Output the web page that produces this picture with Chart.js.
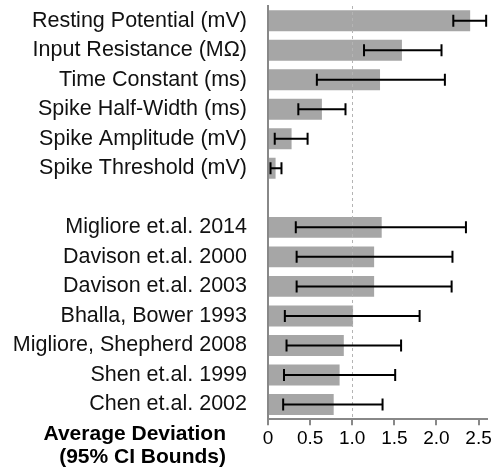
<!DOCTYPE html>
<html>
<head>
<meta charset="utf-8">
<script src="https://cdn.jsdelivr.net/npm/chart.js@4"></script>
<style>
  html, body { margin: 0; padding: 0; background: #fff; }
  #wrap { position: relative; width: 495px; height: 470px; }
  #axisTitle {
    position: absolute; left: 0; top: 422px; width: 226px;
    text-align: right; font: bold 21px "Liberation Sans", Arial, sans-serif;
    line-height: 22.6px; color: #000;
  }
</style>
</head>
<body>
<div id="wrap">
  <canvas id="chart" width="495" height="470"></canvas>
  <div id="axisTitle">Average Deviation<br>(95% CI Bounds)</div>
</div>
<script>
// rows top to bottom, '' is the spacer row
const categories = [
  'Resting Potential (mV)', 'Input Resistance (M\u03A9)', 'Time Constant (ms)',
  'Spike Half-Width (ms)', 'Spike Amplitude (mV)', 'Spike Threshold (mV)',
  '',
  'Migliore et.al. 2014', 'Davison et.al. 2000', 'Davison et.al. 2003',
  'Bhalla, Bower 1993', 'Migliore, Shepherd 2008', 'Shen et.al. 1999', 'Chen et.al. 2002'
];
const deviation = [2.40, 1.59, 1.33, 0.64, 0.28, 0.09, null, 1.35, 1.26, 1.26, 1.01, 0.90, 0.85, 0.78];
const ciLower   = [2.20, 1.14, 0.58, 0.36, 0.08, 0.03, null, 0.33, 0.34, 0.34, 0.20, 0.22, 0.19, 0.18];
const ciUpper   = [2.59, 2.06, 2.10, 0.92, 0.47, 0.16, null, 2.35, 2.19, 2.18, 1.80, 1.58, 1.51, 1.36];
const xTicks = [0, 0.5, 1, 1.5, 2, 2.5];
const refValue = 1;

const errorBars = {
  id: 'errorBars',
  afterDatasetsDraw(chart) {
    const ctx = chart.ctx;
    const x = chart.scales.x, y = chart.scales.y;
    const area = chart.chartArea;
    // dashed reference line
    ctx.save();
    ctx.strokeStyle = '#b4b4b4';
    ctx.lineWidth = 1;
    ctx.setLineDash([3, 3]);
    const rx = Math.round(x.getPixelForValue(refValue)) + 0.5;
    ctx.beginPath();
    ctx.moveTo(rx, area.top);
    ctx.lineTo(rx, area.bottom);
    ctx.stroke();
    ctx.restore();

    ctx.save();
    ctx.strokeStyle = '#000';
    ctx.lineWidth = 2;
    ciLower.forEach((lo, i) => {
      if (lo == null) return;
      const yp = y.getPixelForValue(i);
      const x1 = x.getPixelForValue(lo), x2 = x.getPixelForValue(ciUpper[i]);
      ctx.beginPath();
      ctx.moveTo(x1, yp); ctx.lineTo(x2, yp);
      ctx.moveTo(x1, yp - 6); ctx.lineTo(x1, yp + 6);
      ctx.moveTo(x2, yp - 6); ctx.lineTo(x2, yp + 6);
      ctx.stroke();
    });
    ctx.restore();
  }
};

new Chart(document.getElementById('chart'), {
  type: 'bar',
  data: {
    labels: categories,
    datasets: [{
      data: deviation,
      backgroundColor: '#a6a6a6',
      barPercentage: 0.71,
      categoryPercentage: 1
    }]
  },
  options: {
    indexAxis: 'y',
    responsive: false,
    animation: false,
    layout: { padding: { top: 6, right: 8, bottom: 18, left: 0 } },
    plugins: { legend: { display: false }, tooltip: { enabled: false } },
    scales: {
      x: {
        min: 0, max: 2.6,
        afterBuildTicks: (s) => { s.ticks = xTicks.map(v => ({ value: v })); },
        grid: { drawOnChartArea: false, drawTicks: true, tickLength: 6, color: '#888', lineWidth: 2 },
        border: { color: '#888', width: 2 },
        ticks: {
          padding: 2,
          color: '#000',
          font: { family: '"Liberation Sans", Arial, sans-serif', size: 19 },
          maxRotation: 0
        }
      },
      y: {
        afterFit: (s) => { s.width = 268; s.paddingTop = 0; s.paddingBottom = 0; },
        grid: { display: false },
        border: { color: '#888', width: 2 },
        ticks: {
          padding: 13,
          color: '#111',
          autoSkip: false,
          font: { family: '"Liberation Sans", Arial, sans-serif', size: 21.5 }
        }
      }
    }
  },
  plugins: [errorBars]
});
</script>
</body>
</html>
